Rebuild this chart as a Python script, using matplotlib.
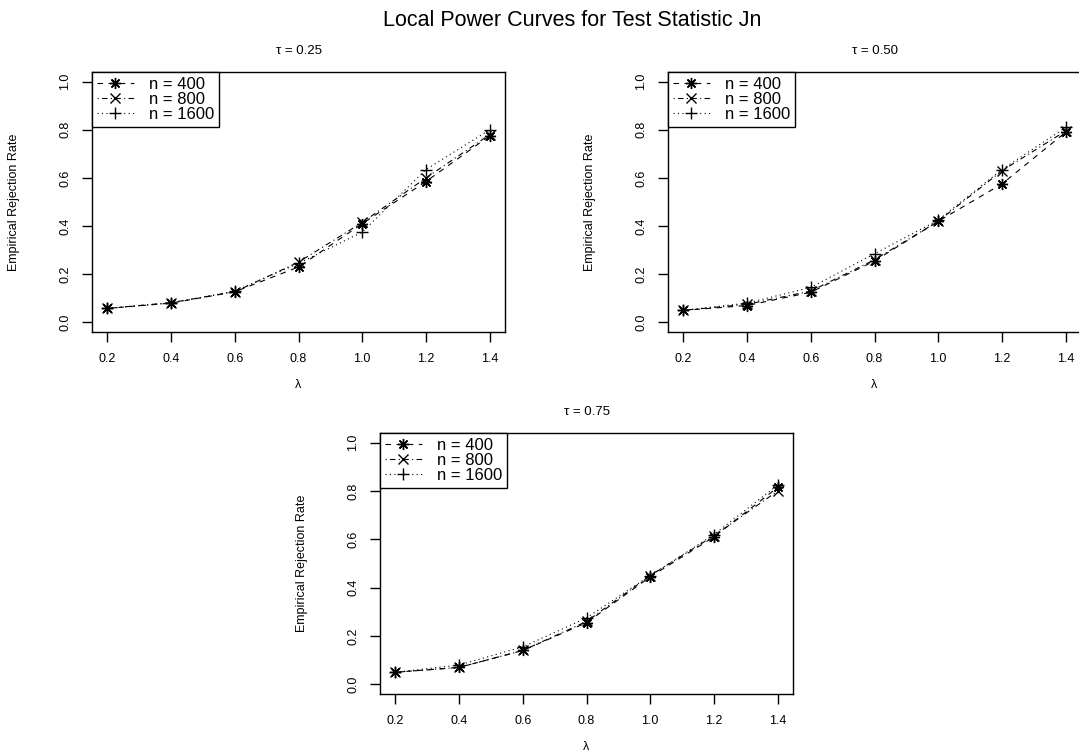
import matplotlib
matplotlib.use("Agg")
import matplotlib.pyplot as plt

plt.rcParams['font.family'] = ['Liberation Sans', 'DejaVu Sans']

lam = [0.2, 0.4, 0.6, 0.8, 1.0, 1.2, 1.4]
x_ticks = [0.2, 0.4, 0.6, 0.8, 1.0, 1.2, 1.4]
y_ticks = [0.0, 0.2, 0.4, 0.6, 0.8, 1.0]
labels = ["n = 400", "n = 800", "n = 1600"]
taus = ["0.25", "0.50", "0.75"]

# tau = 0.25
t25_n400 = [0.058, 0.080, 0.127, 0.230, 0.410, 0.585, 0.775]
t25_n800 = [0.058, 0.082, 0.127, 0.250, 0.415, 0.600, 0.780]
t25_n1600 = [0.058, 0.080, 0.130, 0.245, 0.375, 0.635, 0.800]
# tau = 0.50
t50_n400 = [0.050, 0.070, 0.125, 0.255, 0.420, 0.575, 0.790]
t50_n800 = [0.050, 0.075, 0.130, 0.260, 0.420, 0.630, 0.795]
t50_n1600 = [0.050, 0.080, 0.145, 0.285, 0.425, 0.635, 0.810]
# tau = 0.75
t75_n400 = [0.050, 0.070, 0.140, 0.255, 0.445, 0.610, 0.815]
t75_n800 = [0.050, 0.070, 0.140, 0.260, 0.450, 0.615, 0.800]
t75_n1600 = [0.050, 0.080, 0.155, 0.275, 0.450, 0.620, 0.825]

panels = [
    (taus[0], [t25_n400, t25_n800, t25_n1600]),
    (taus[1], [t50_n400, t50_n800, t50_n1600]),
    (taus[2], [t75_n400, t75_n800, t75_n1600]),
]

W, H = 1079, 751
fig = plt.figure(figsize=(W / 100, H / 100), dpi=100)

boxes = [(92, 72, 505, 332), (668, 72, 1081, 332), (380, 433, 793, 694)]
styles = [
    dict(linestyle=(0, (5, 5)), marker=(8, 2, 0), markersize=8),
    dict(linestyle=(0, (1, 3, 5, 3)), marker='x', markersize=6.5),
    dict(linestyle=(0, (1, 3)), marker='+', markersize=9),
]

for (tau, series), (l, t, r, b) in zip(panels, boxes):
    ax = fig.add_axes([l / W, 1 - b / H, (r - l) / W, (b - t) / H])
    for ys, st, lab in zip(series, styles, labels):
        ax.plot(lam, ys, color='black', linewidth=0.8,
                markeredgewidth=1.0, label=lab, **st)
    ax.set_xlim(0.152, 1.448)
    ax.set_ylim(-0.04, 1.04)
    ax.set_xticks(x_ticks)
    ax.set_xticklabels([f"{v:.1f}" for v in x_ticks])
    ax.set_yticks(y_ticks)
    ax.set_yticklabels([f"{v:.1f}" for v in y_ticks], rotation=90, va='center')
    ax.tick_params(direction='out', length=7, width=1, labelsize=9, pad=8)
    for s in ax.spines.values():
        s.set_linewidth(1.0)
    ax.set_title("\u03c4 = " + tau, fontsize=9.5, pad=13)
    ax.set_xlabel("\u03bb", fontsize=9, labelpad=10)
    ax.set_ylabel("Empirical Rejection Rate", fontsize=9, labelpad=28)
    leg = ax.legend(loc='upper left', borderaxespad=0, fancybox=False,
                    edgecolor='black', framealpha=1, fontsize=12,
                    handlelength=2.2, handletextpad=0.9, labelspacing=0.0,
                    borderpad=0.3)
    leg.get_frame().set_linewidth(1.0)

fig.text(572 / W, 1 - 20 / H, "Local Power Curves for Test Statistic Jn",
         ha='center', va='center', fontsize=15.5)

fig.savefig("out.png", dpi=100)
